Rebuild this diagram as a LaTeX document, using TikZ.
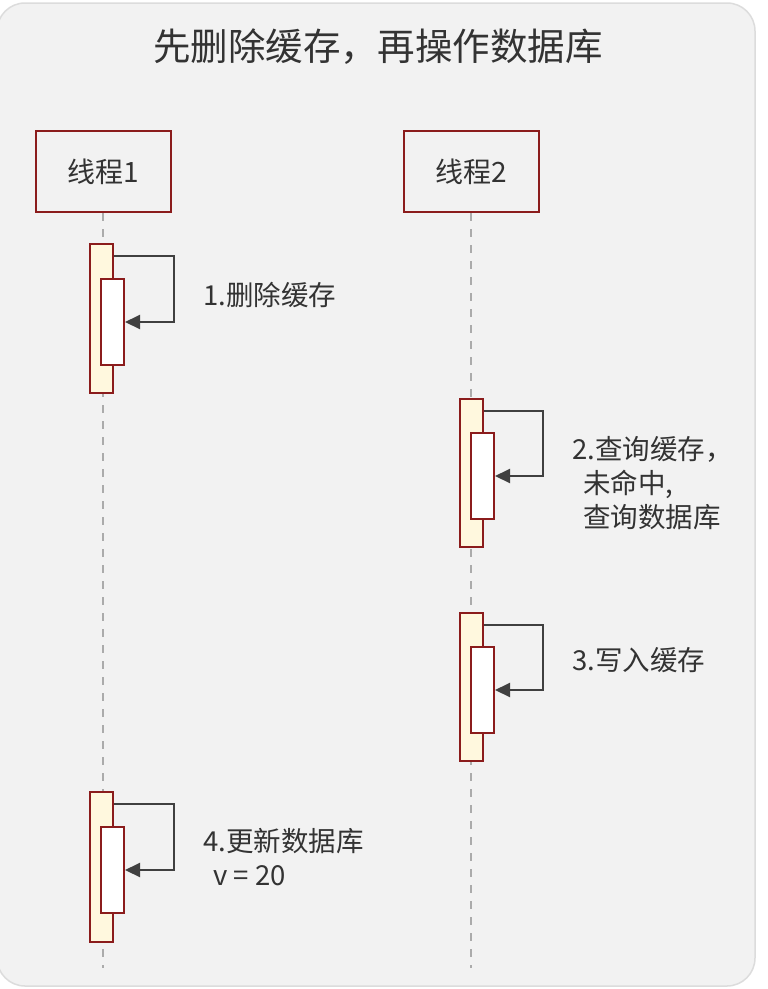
\documentclass[tikz,border=0pt]{standalone}
\usepackage{fontspec}
\setmainfont{Noto Sans CJK SC}
\usetikzlibrary{arrows.meta}
\definecolor{panel}{HTML}{F2F2F2}
\definecolor{panelline}{HTML}{DCDCDC}
\definecolor{boxred}{HTML}{8B1C1C}
\definecolor{actfill}{HTML}{FFF8DE}
\definecolor{txt}{HTML}{333333}
\definecolor{arrowc}{HTML}{404040}
\definecolor{lifec}{HTML}{ABABAB}
\tikzset{
  thread/.style={draw=boxred, line width=2pt, fill=panel, minimum width=135pt, minimum height=81pt, inner sep=0pt, font=\fontsize{28}{30}\selectfont, text=txt},
  life/.style={lifec, line width=1.5pt, dash pattern=on 8pt off 8pt},
  outerbar/.style={draw=boxred, fill=actfill, line width=2pt, minimum width=23pt, inner sep=0pt},
  innerbar/.style={draw=boxred, fill=white, line width=2pt, minimum width=23pt, minimum height=86pt, inner sep=0pt},
  msg/.style={arrowc, line width=2pt, -{Triangle[length=15pt,width=14pt]}},
  lab/.style={text=txt, font=\fontsize{27.5}{34}\selectfont, inner sep=0pt, anchor=west, align=left}
}
\begin{document}
\begin{tikzpicture}[x=1pt,y=-1pt]
\useasboundingbox (0,0) rectangle (768,989);
\fill[white] (0,0) rectangle (768,989);
\draw[panelline, fill=panel, rounded corners=28pt, line width=1.5pt] (-3,3) rectangle (755,986);
\node[text=txt, font=\fontsize{37.5}{40}\selectfont, inner sep=0pt] (title) at (378,47) {先删除缓存，再操作数据库};
\node[thread] (t1) at (103,171.5) {线程1};
\node[thread] (t2) at (471,171.5) {线程2};
\coordinate (e1) at (103,968);
\coordinate (e2) at (471,968);
\draw[life] (t1.south) -- (e1);
\draw[life] (t2.south) -- (e2);
% activation 1
\node[outerbar, minimum height=149pt] (o1) at (101,318.5) {};
\node[innerbar] (i1) at (112.5,322) {};
\draw[msg] ([yshift=-13pt]o1.north east) -- ++(60,0) |- (i1.east);
\node[lab] (l1) at (203,295) {1.删除缓存};
% activation 2
\node[outerbar, minimum height=148pt] (o2) at (471.5,473) {};
\node[innerbar] (i2) at (482.5,476) {};
\draw[msg] ([yshift=-13pt]o2.north east) -- ++(59,0) |- (i2.east);
\node[lab] (l2) at (572,483) {2.查询缓存，\\\hspace*{11pt}未命中,\\\hspace*{11pt}查询数据库};
% activation 3
\node[outerbar, minimum height=148pt] (o3) at (471.5,687) {};
\node[innerbar] (i3) at (482.5,690) {};
\draw[msg] ([yshift=-13pt]o3.north east) -- ++(59,0) |- (i3.east);
\node[lab] (l3) at (572,660) {3.写入缓存};
% activation 4
\node[outerbar, minimum height=150pt] (o4) at (101,867) {};
\node[innerbar] (i4) at (112.5,870) {};
\draw[msg] ([yshift=-13pt]o4.north east) -- ++(60,0) |- (i4.east);
\node[lab] (l4) at (203,857) {4.更新数据库\\\hspace*{10pt}v = 20};
\end{tikzpicture}
\end{document}
